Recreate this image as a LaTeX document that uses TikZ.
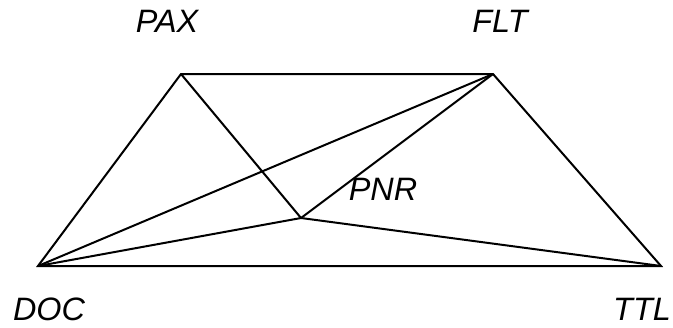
\documentclass[tikz,border=0pt]{standalone}
\usepackage{fontspec}
\setmainfont{Liberation Sans}
\begin{document}
\begin{tikzpicture}[x=1bp,y=-1bp,
  edge/.style={line width=2bp,line join=miter},
  lbl/.style={font=\fontsize{32.5}{38}\selectfont\itshape,inner sep=0pt}]
\useasboundingbox (0,0) rectangle (673,327);
% vertices
\coordinate (pax) at (181,74);
\coordinate (flt) at (493,74);
\coordinate (pnr) at (301,218);
\coordinate (doc) at (38,266);
\coordinate (ttl) at (661,266);
% labels
\node[lbl] (paxl) at (167,21) {PAX};
\node[lbl] (fltl) at (500,21) {FLT};
\node[lbl] (pnrl) at (383,189) {PNR};
\node[lbl] (docl) at (49,309.5) {DOC};
\node[lbl] (ttll) at (642,309.5) {TTL};
% edges
\draw[edge] (pax) -- (flt) -- (ttl) -- (doc) -- cycle;
\draw[edge] (pax) -- (pnr);
\draw[edge] (flt) -- (pnr);
\draw[edge] (flt) -- (doc);
\draw[edge] (doc) -- (pnr);
\draw[edge] (pnr) -- (ttl);
\end{tikzpicture}
\end{document}
